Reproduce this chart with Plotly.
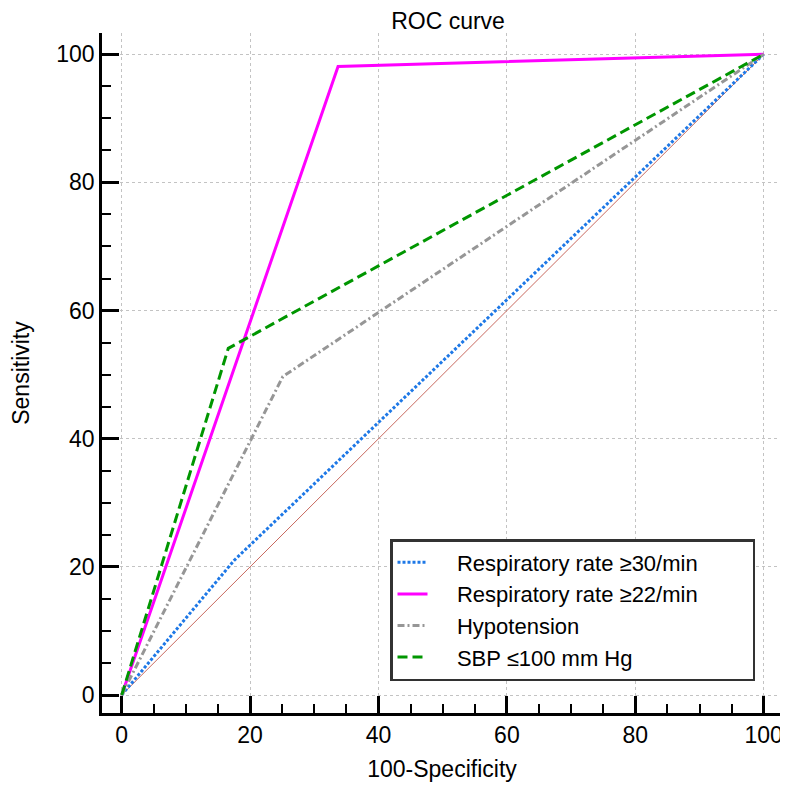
import plotly.graph_objects as go

# ROC data (100-Specificity, Sensitivity)
names = ["Respiratory rate ≥30/min", "Respiratory rate ≥22/min", "Hypotension", "SBP ≤100 mm Hg"]
rr30_x = [0, 17.5, 100]
rr30_y = [0, 21.0, 100]
rr22_x = [0, 33.7, 100]
rr22_y = [0, 98.1, 100]
hypo_x = [0, 25.1, 100]
hypo_y = [0, 49.7, 100]
sbp_x = [0, 16.6, 100]
sbp_y = [0, 54.1, 100]
diag_x = [0, 100]
diag_y = [0, 100]
tick_vals = [0, 20, 40, 60, 80, 100]

FONT = "Liberation Sans, Arial, sans-serif"


def label(s):
    return "\u00a0" * 4 + s + "\u00a0" * 8


fig = go.Figure()
fig.add_trace(go.Scatter(x=diag_x, y=diag_y, mode="lines", showlegend=False,
                         line=dict(color="rgb(200,105,95)", width=1), hoverinfo="skip"))
fig.add_trace(go.Scatter(x=rr30_x, y=rr30_y, mode="lines", name=label(names[0]),
                         line=dict(color="rgb(30,120,230)", width=3, dash="3px,2px")))
fig.add_trace(go.Scatter(x=rr22_x, y=rr22_y, mode="lines", name=label(names[1]),
                         line=dict(color="rgb(255,0,255)", width=3)))
fig.add_trace(go.Scatter(x=hypo_x, y=hypo_y, mode="lines", name=label(names[2]),
                         line=dict(color="rgb(150,150,150)", width=3, dash="7px,3px,2px,3px")))
fig.add_trace(go.Scatter(x=sbp_x, y=sbp_y, mode="lines", name=label(names[3]),
                         line=dict(color="rgb(0,150,0)", width=3, dash="10px,5px")))

axis_common = dict(
    tickvals=tick_vals, ticks="inside", ticklen=17, tickwidth=2.5, tickcolor="black",
    showline=True, linecolor="black", linewidth=2.5, mirror=False,
    showgrid=True, gridcolor="rgb(195,195,195)", griddash="dot", gridwidth=1,
    zeroline=False, tickfont=dict(family=FONT, size=23, color="black"),
    minor=dict(dtick=5, ticks="inside", ticklen=9, tickwidth=1.5, tickcolor="black", showgrid=False),
)

# page body has an 8px margin: figure is drawn from (8, 8)
W, H = 780, 778
fig.update_layout(
    width=W, height=H,
    margin=dict(l=94, r=6, t=25, b=73),
    paper_bgcolor="white", plot_bgcolor="white",
    font=dict(family=FONT, color="black"),
    title=dict(text="ROC curve", x=440 / W, xanchor="center", y=1 - 13 / H, yanchor="middle",
               font=dict(family=FONT, size=23, color="black")),
    xaxis=dict(range=[-3.07, 102.85], title=dict(text="100-Specificity", font=dict(family=FONT, size=23), standoff=14),
               **axis_common),
    yaxis=dict(range=[-2.81, 103.32], title=dict(text="Sensitivity", font=dict(family=FONT, size=23), standoff=26),
               **axis_common),
    legend=dict(x=(390 - 102) / 680, y=(713 - 681) / 680, xanchor="left", yanchor="bottom",
                bgcolor="white", bordercolor="rgb(50,50,50)", borderwidth=2.5,
                font=dict(family=FONT, size=22, color="black"), tracegroupgap=0,
                itemwidth=30),
    showlegend=True,
)

fig.write_html("out.html")
